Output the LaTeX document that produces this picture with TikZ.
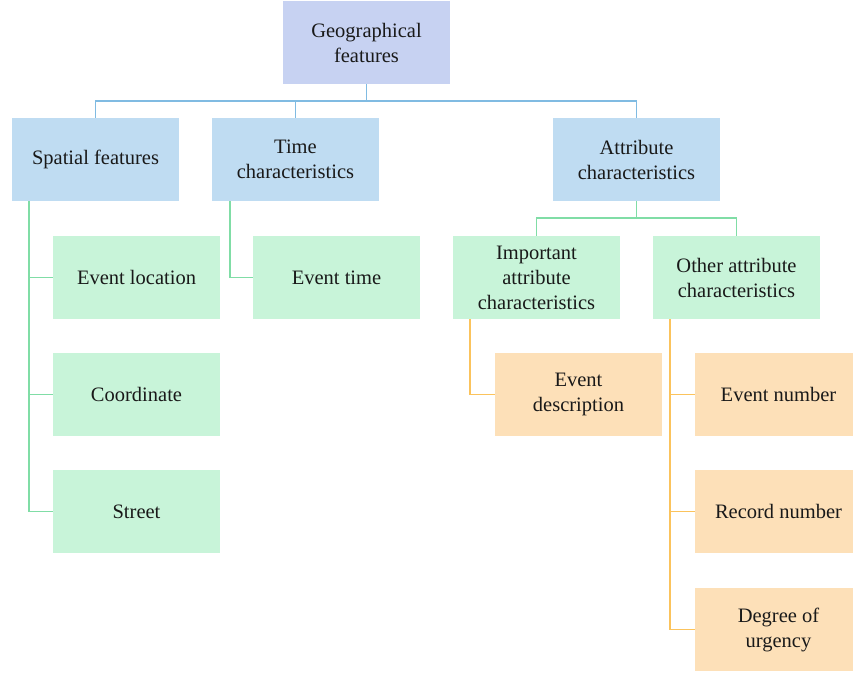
\documentclass[tikz,border=0pt]{standalone}
\usepackage{fontspec}
\setmainfont{Liberation Serif}
\definecolor{rootfill}{HTML}{C7D2F2}
\definecolor{bluefill}{HTML}{BFDCF2}
\definecolor{greenfill}{HTML}{C8F4D9}
\definecolor{orangefill}{HTML}{FDE0B8}
\definecolor{blueline}{HTML}{80BBE2}
\definecolor{greenline}{HTML}{80DDA6}
\definecolor{orangeline}{HTML}{FBC35C}
\tikzset{
    box/.style={minimum width=167pt, minimum height=83pt, inner sep=0pt,
        align=center, font=\fontsize{20.5}{25}\selectfont, text=black!90},
    rootbox/.style={box, fill=rootfill},
    bluebox/.style={box, fill=bluefill},
    greenbox/.style={box, fill=greenfill},
    orangebox/.style={box, fill=orangefill},
    link/.style={line width=1.5pt}
}
\begin{document}
\begin{tikzpicture}[x=1pt, y=-1pt]
            \useasboundingbox (0,0) rectangle (853,674);
            \clip (0,0) rectangle (853,674);

            \node[rootbox] (geo) at (366.5,42.5) {Geographical\\features};

            \node[bluebox] (spatial) at (95.5,159.5) {Spatial features};
            \node[bluebox] (time) at (295.5,159.5) {Time\\characteristics};
            \node[bluebox] (attr) at (636.5,159.5) {Attribute\\characteristics};

            \node[greenbox] (evloc) at (136.5,277.5) {Event location};
            \node[greenbox] (coord) at (136.5,394.5) {Coordinate};
            \node[greenbox] (street) at (136.5,511.5) {Street};
            \node[greenbox] (evtime) at (336.5,277.5) {Event time};
            \node[greenbox] (imp) at (536.5,277.5) {Important\\attribute\\characteristics};
            \node[greenbox] (other) at (736.5,277.5) {Other attribute\\characteristics};

            \node[orangebox] (evdesc) at (578.5,394.5) {Event\\description};
            \node[orangebox] (evnum) at (778.5,394.5) {Event number};
            \node[orangebox] (recnum) at (778.5,511.5) {Record number};
            \node[orangebox] (urg) at (778.5,629.5) {Degree of\\urgency};

            % root to second level
            \draw[link, blueline] (geo.south) -- ++(0,17) coordinate (geobus);
            \draw[link, blueline] (geobus) -| (spatial.north);
            \draw[link, blueline] (geobus) -| (time.north);
            \draw[link, blueline] (geobus) -| (attr.north);

            % spatial and time
            \draw[link, greenline] ([xshift=17pt]spatial.south west) |- (evloc.west);
            \draw[link, greenline] ([xshift=17pt]spatial.south west) |- (coord.west);
            \draw[link, greenline] ([xshift=17pt]spatial.south west) |- (street.west);
            \draw[link, greenline] ([xshift=18pt]time.south west) |- (evtime.west);

            % attribute
            \draw[link, greenline] (attr.south) -- ++(0,17) coordinate (attrbus);
            \draw[link, greenline] (attrbus) -| (imp.north);
            \draw[link, greenline] (attrbus) -| (other.north);

            \draw[link, orangeline] ([xshift=17pt]imp.south west) |- (evdesc.west);
            \draw[link, orangeline] ([xshift=17pt]other.south west) |- (evnum.west);
            \draw[link, orangeline] ([xshift=17pt]other.south west) |- (recnum.west);
            \draw[link, orangeline] ([xshift=17pt]other.south west) |- (urg.west);
        \end{tikzpicture}
\end{document}
